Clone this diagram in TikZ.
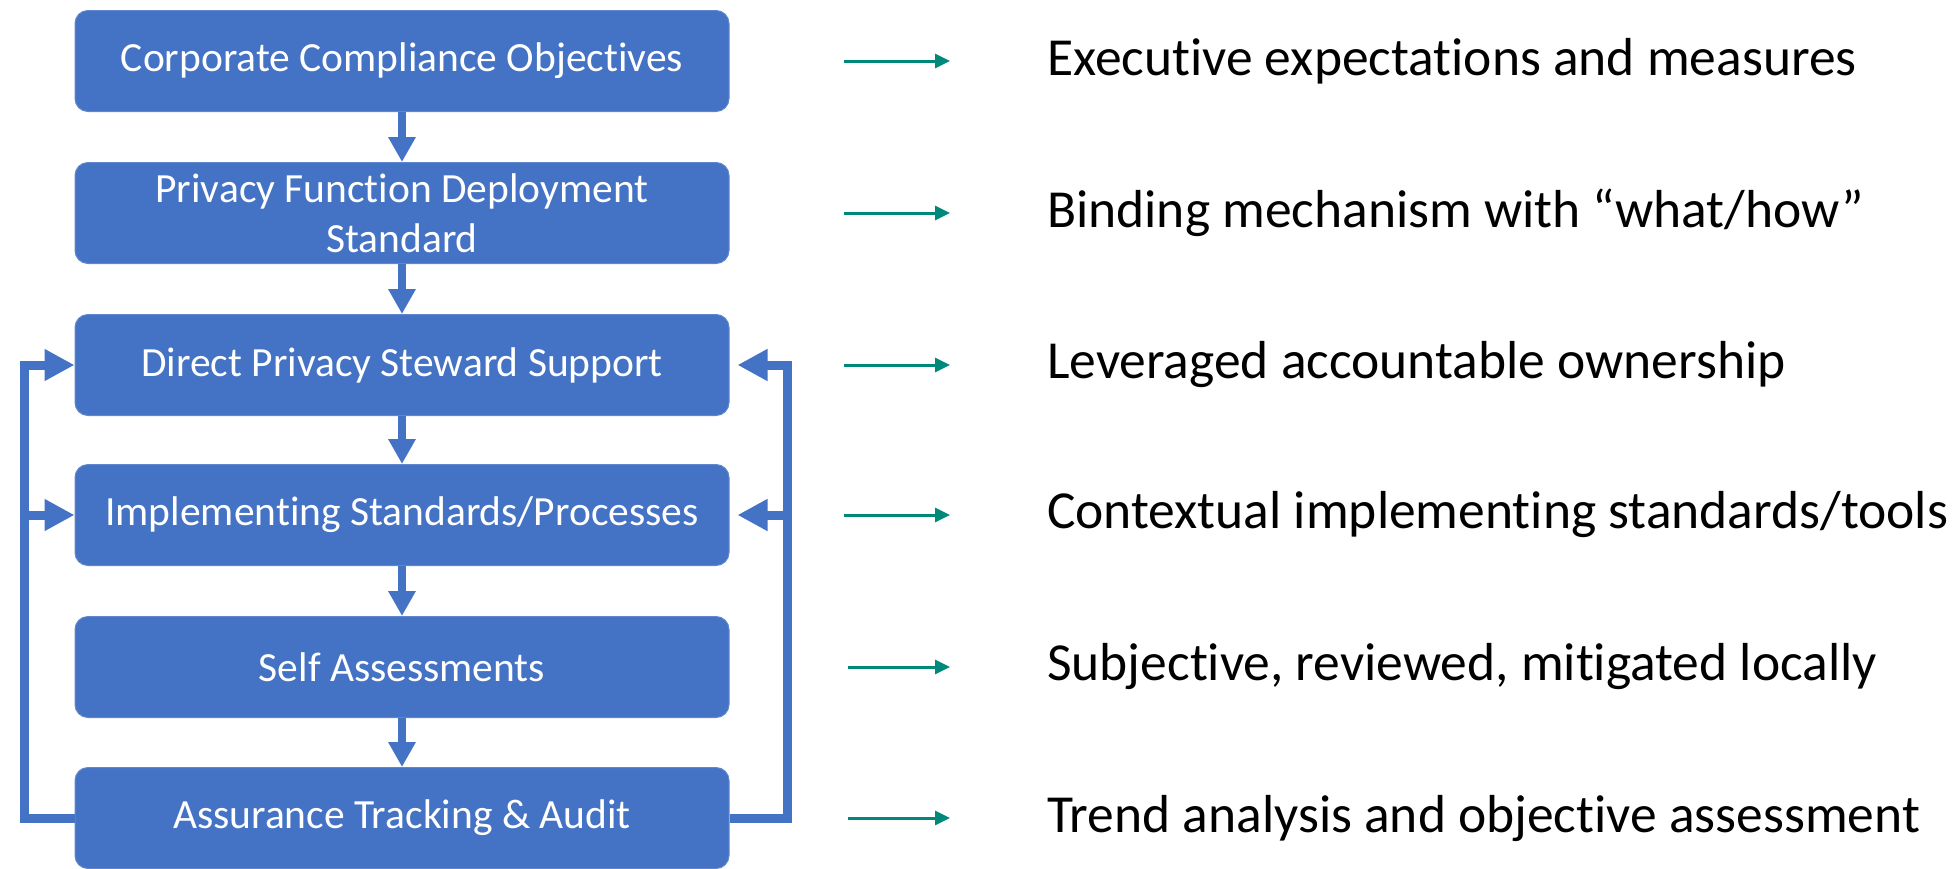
\documentclass[tikz,border=0pt]{standalone}
\usepackage{fontspec}
\setmainfont{Carlito}[Ligatures=NoCommon]
\usetikzlibrary{arrows.meta}
\definecolor{boxblue}{HTML}{4472C4}
\definecolor{tealc}{HTML}{00897B}
\begin{document}
\begin{tikzpicture}[x=1pt,y=-1pt,
  flowbox/.style={rectangle,rounded corners=13pt,fill=boxblue,draw=boxblue!85!white,line width=1pt,
    minimum width=654pt,minimum height=101pt,text=white,align=center,
    font=\fontsize{41.5}{50}\selectfont,inner sep=0pt},
  downarr/.style={boxblue,line width=8pt,-{Triangle[length=25pt,width=26pt]}},
  fb/.style={boxblue,line width=9pt,line join=miter},
  fbarr/.style={fb,-{Triangle[length=30pt,width=30pt]}},
  tarr/.style={tealc,line width=3pt,-{Triangle[length=15pt,width=14pt]}},
  rtext/.style={anchor=west,font=\fontsize{53.5}{60}\selectfont,inner sep=0pt}]
\useasboundingbox (0,0) rectangle (1955,868);
\node[flowbox] (b1) at (402,61) {Corporate Compliance Objectives};
\node[flowbox] (b2) at (402,213) {Privacy Function Deployment\\Standard};
\node[flowbox] (b3) at (402,365) {Direct Privacy Steward Support};
\node[flowbox] (b4) at (402,515) {Implementing Standards/Processes};
\node[flowbox] (b5) at (402,667) {Self Assessments};
\node[flowbox] (b6) at (402,818) {Assurance Tracking \& Audit};
\foreach \a/\b in {b1/b2,b2/b3,b3/b4,b4/b5,b5/b6}
  \draw[downarr] (\a.south) -- (\b.north);
% feedback loops
\coordinate (L) at (24,0);
\coordinate (R) at (787,0);
\draw[fbarr] (b6.west) -| (L |- b3.west) -- (b3.west);
\draw[fbarr] (L |- b4.west) -- (b4.west);
\draw[fbarr,shorten >=8pt] (b6.east) -| (R |- b3.east) -- (b3.east);
\draw[fbarr,shorten >=8pt] (R |- b4.east) -- (b4.east);
% right texts
\node[rtext] (r1) at (1047,61) {Executive expectations and measures};
\node[rtext] (r2) at (1047,213) {Binding mechanism with “what/how”};
\node[rtext] (r3) at (1047,365) {Leveraged accountable ownership};
\node[rtext] (r4) at (1047,515) {Contextual implementing standards/tools};
\node[rtext] (r5) at (1047,667) {Subjective, reviewed, mitigated locally};
\node[rtext] (r6) at (1047,818) {Trend analysis and objective assessment};
\foreach \i/\x in {1/844,2/844,3/844,4/844,5/848,6/848}{
  \coordinate (s\i) at (\x,0);
  \coordinate (e\i) at (950,0);
  \draw[tarr] (s\i |- r\i.west) -- (e\i |- r\i.west);
}
\end{tikzpicture}
\end{document}
